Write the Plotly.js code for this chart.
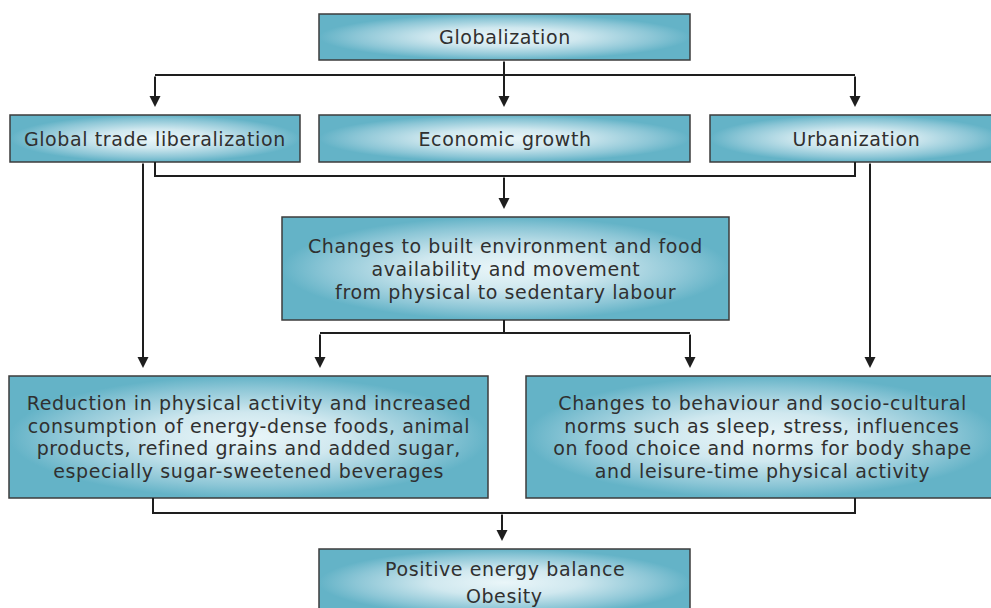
<!DOCTYPE html>
<html>
<head>
<meta charset="utf-8">
<script src="https://cdn.plot.ly/plotly-3.0.1.min.js"></script>
<style>html,body{margin:0;padding:0;background:#fff;}#chart{width:991px;height:608px;}
#chart .annotation-text{letter-spacing:0.6px;}</style>
</head>
<body>
<div id="chart"></div>
<script>
// ---- content ----
const boxIds = ["glob", "trade", "econ", "urban", "built", "reduce", "behav", "energy"];
const boxLabels = [
  ["Globalization"],
  ["Global trade liberalization"],
  ["Economic growth"],
  ["Urbanization"],
  ["Changes to built environment and food", "availability and movement", "from physical to sedentary labour"],
  ["Reduction in physical activity and increased", "consumption of energy-dense foods, animal", "products, refined grains and added sugar,", "especially sugar-sweetened beverages"],
  ["Changes to behaviour and socio-cultural", "norms such as sleep, stress, influences", "on food choice and norms for body shape", "and leisure-time physical activity"],
  ["Positive energy balance", "Obesity"]
];
// arrows: [from, to]
const arrowFrom = ["glob", "glob", "glob", "trade", "econ", "urban", "built", "built", "reduce"];
const arrowTo   = ["trade", "econ", "urban", "reduce", "built", "behav", "reduce", "behav", "energy"];

// ---- layout geometry (pixel space) ----
const geom = {
  glob:   {x0: 319, x1: 690, y0: 14,  y1: 60,  gap: 23},
  trade:  {x0: 10,  x1: 300, y0: 115, y1: 162, gap: 23},
  econ:   {x0: 319, x1: 690, y0: 115, y1: 162, gap: 23},
  urban:  {x0: 710, x1: 1002, y0: 115, y1: 162, gap: 23},
  built:  {x0: 282, x1: 729, y0: 217, y1: 320, gap: 23},
  reduce: {x0: 9,   x1: 488, y0: 376, y1: 498, gap: 22.5},
  behav:  {x0: 526, x1: 998, y0: 376, y1: 498, gap: 22.5},
  energy: {x0: 319, x1: 690, y0: 549, y1: 616, gap: 27, cy: 582.5}
};
const arrowGeom = [
  {x: 155, ya: 75,  yb: 107},
  {x: 504, ya: 60,  yb: 107},
  {x: 855, ya: 75,  yb: 107},
  {x: 143, ya: 162, yb: 368},
  {x: 504, ya: 176, yb: 209},
  {x: 870, ya: 162, yb: 368},
  {x: 320, ya: 333, yb: 368},
  {x: 690, ya: 333, yb: 368},
  {x: 502, ya: 513, yb: 541}
];
const connectors = [
  [[155,75],[855,75]],
  [[155,162],[155,176],[855,176],[855,162]],
  [[504,320],[504,333]],
  [[320,333],[690,333]],
  [[153,498],[153,513],[855,513],[855,498]]
];

const gradSvg = encodeURIComponent(
  '<svg xmlns="http://www.w3.org/2000/svg" width="100" height="100" viewBox="0 0 100 100" preserveAspectRatio="none">' +
  '<defs><radialGradient id="g" cx="50%" cy="50%" r="50%">' +
  '<stop offset="0" stop-color="#eaf6f9"/><stop offset="0.4" stop-color="#d0e8ef"/>' +
  '<stop offset="0.8" stop-color="#8cc6d6"/><stop offset="1" stop-color="#64b3c7"/>' +
  '</radialGradient></defs><rect x="0" y="0" width="100" height="100" fill="#64b3c7"/>' +
  '<rect x="0" y="0" width="100" height="100" fill="url(#g)"/></svg>');
const gradSrc = 'data:image/svg+xml;charset=utf-8,' + gradSvg;

const images = [], shapes = [], annotations = [];
boxIds.forEach((id, i) => {
  const g = geom[id];
  images.push({source: gradSrc, xref: 'x', yref: 'y', x: g.x0, y: g.y0,
    sizex: g.x1 - g.x0, sizey: g.y1 - g.y0, sizing: 'stretch',
    xanchor: 'left', yanchor: 'top', layer: 'below'});
  shapes.push({type: 'rect', xref: 'x', yref: 'y', x0: g.x0, x1: g.x1, y0: g.y0, y1: g.y1,
    line: {color: '#3c3c3c', width: 1.5}, fillcolor: 'rgba(0,0,0,0)'});
  const lines = boxLabels[i];
  const cy = g.cy !== undefined ? g.cy : (g.y0 + g.y1) / 2;
  const cx = (g.x0 + g.x1) / 2;
  lines.forEach((t, k) => {
    annotations.push({text: t, x: cx, y: cy + (k - (lines.length - 1) / 2) * g.gap,
      xref: 'x', yref: 'y', showarrow: false, xanchor: 'center', yanchor: 'middle',
      font: {family: 'DejaVu Sans, sans-serif', size: 19, color: '#303030'}});
  });
});
connectors.forEach(pts => {
  const d = pts.map((p, k) => (k ? 'L' : 'M') + p[0] + ',' + p[1]).join(' ');
  shapes.push({type: 'path', path: d, xref: 'x', yref: 'y', line: {color: '#1e1e1e', width: 2}});
});
arrowFrom.forEach((f, i) => {
  const a = arrowGeom[i];
  annotations.push({text: '', showarrow: true, x: a.x, y: a.yb, ax: a.x, ay: a.ya,
    xref: 'x', yref: 'y', axref: 'x', ayref: 'y', arrowhead: 2, arrowsize: 1.1,
    arrowwidth: 2, arrowcolor: '#1e1e1e', standoff: 0, startstandoff: 0});
});

const layout = {
  width: 991, height: 608,
  margin: {l: 0, r: 0, t: 0, b: 0},
  paper_bgcolor: '#ffffff', plot_bgcolor: '#ffffff',
  xaxis: {range: [0, 991], visible: false, fixedrange: true},
  yaxis: {range: [608, 0], visible: false, fixedrange: true},
  showlegend: false,
  images: images, shapes: shapes, annotations: annotations
};
Plotly.newPlot('chart', [], layout, {staticPlot: true, displayModeBar: false});
</script>
</body>
</html>
